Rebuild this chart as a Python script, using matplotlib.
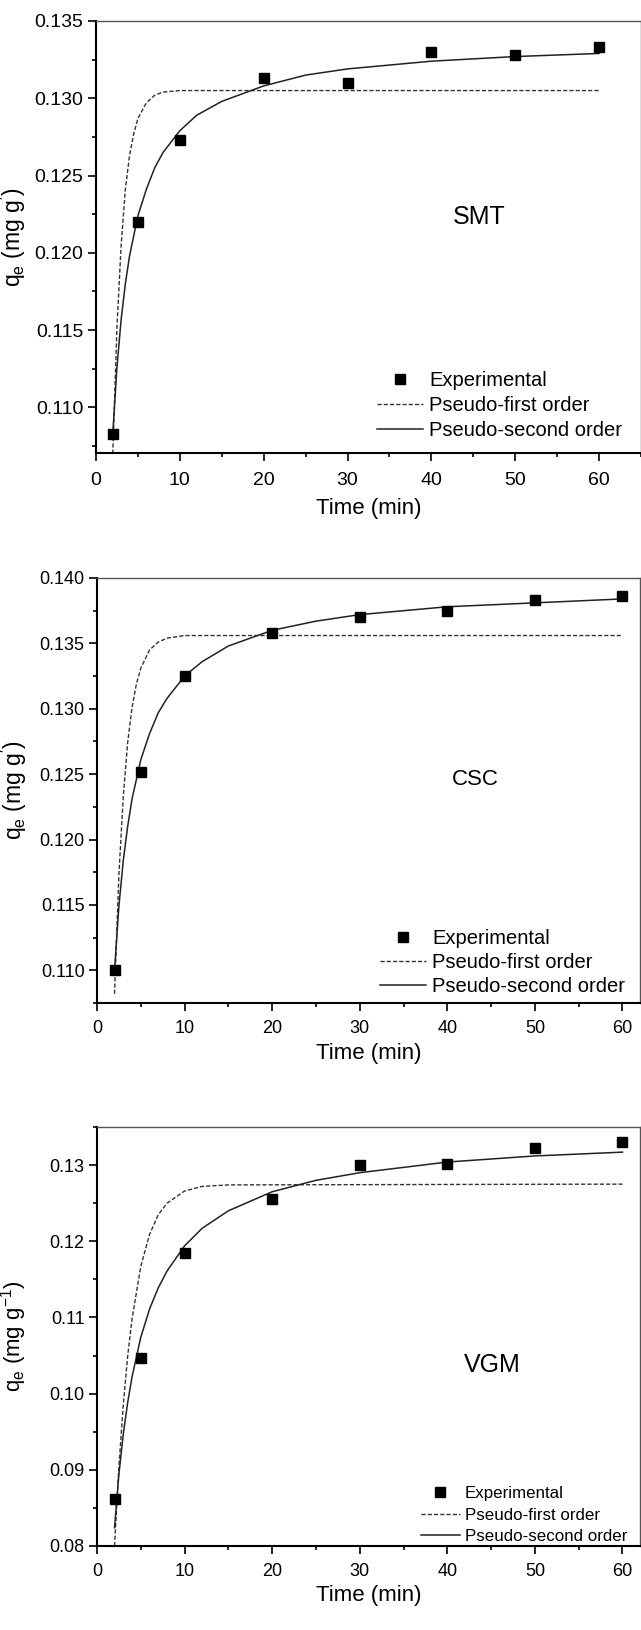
import matplotlib
matplotlib.use('Agg')
import matplotlib.pyplot as plt
from matplotlib.ticker import MultipleLocator, FormatStrFormatter

plt.rcParams['font.family'] = ['Liberation Sans', 'DejaVu Sans']
plt.rcParams['mathtext.fontset'] = 'custom'
plt.rcParams['mathtext.rm'] = 'Liberation Sans'
plt.rcParams['mathtext.it'] = 'Liberation Sans:italic'

# experimental time points (min)
t_exp = [2, 5, 10, 20, 30, 40, 50, 60]

# SMT
smt_exp = [0.1083, 0.1220, 0.1273, 0.1313, 0.1310, 0.1330, 0.1328, 0.1333]
smt_pfo_t = [2, 2.5, 3, 3.5, 4, 4.5, 5, 6, 7, 8, 10, 60]
smt_pfo = [0.1070, 0.1152, 0.1205, 0.1241, 0.1263, 0.1277, 0.1287, 0.1297, 0.1302, 0.1304, 0.1305, 0.1305]
smt_pso_t = [2, 2.5, 3, 3.5, 4, 5, 6, 7, 8, 10, 12, 15, 20, 25, 30, 40, 50, 60]
smt_pso = [0.1083, 0.1126, 0.1157, 0.1180, 0.1198, 0.1224, 0.1241, 0.1255, 0.1265, 0.1279,
           0.1289, 0.1298, 0.1308, 0.1315, 0.1319, 0.1324, 0.1327, 0.1329]

# CSC
csc_exp = [0.1100, 0.1252, 0.1325, 0.1358, 0.1370, 0.1375, 0.1383, 0.1386]
csc_pfo_t = [2, 2.5, 3, 3.5, 4, 4.5, 5, 6, 7, 8, 10, 60]
csc_pfo = [0.1082, 0.1173, 0.1233, 0.1274, 0.1301, 0.1319, 0.1331, 0.1345, 0.1351, 0.1354, 0.1356, 0.1356]
csc_pso_t = [2, 2.5, 3, 3.5, 4, 5, 6, 7, 8, 10, 12, 15, 20, 25, 30, 40, 50, 60]
csc_pso = [0.1100, 0.1149, 0.1184, 0.1210, 0.1231, 0.1261, 0.1281, 0.1297, 0.1308, 0.1325,
           0.1336, 0.1348, 0.1360, 0.1367, 0.1372, 0.1378, 0.1381, 0.1384]

# VGM
vgm_exp = [0.0862, 0.1047, 0.1184, 0.1255, 0.1300, 0.1302, 0.1323, 0.1330]
vgm_pfo_t = [2, 2.5, 3, 3.5, 4, 5, 6, 7, 8, 10, 12, 15, 60]
vgm_pfo = [0.0800, 0.0904, 0.0985, 0.1049, 0.1098, 0.1167, 0.1209, 0.1235, 0.1250, 0.1266, 0.1272, 0.1274, 0.1275]
vgm_pso_t = [2, 2.5, 3, 3.5, 4, 5, 6, 7, 8, 10, 12, 15, 20, 25, 30, 40, 50, 60]
vgm_pso = [0.0824, 0.0894, 0.0947, 0.0988, 0.1022, 0.1074, 0.1111, 0.1139, 0.1161, 0.1194,
           0.1217, 0.1240, 0.1265, 0.1280, 0.1290, 0.1304, 0.1312, 0.1317]

W, H = 641, 1630
fig = plt.figure(figsize=(W / 100, H / 100), dpi=100)


def px_axes(left, top, right, bottom):
    return fig.add_axes([left / W, 1 - bottom / H, (right - left) / W, (bottom - top) / H])


panels = [
    dict(box=(96, 21, 641, 453), xlim=(0, 65), ylim=(0.10705, 0.135), ymaj=0.005, ymin=0.0025, fmt='%.3f',
         exp=smt_exp, pfo_t=smt_pfo_t, pfo=smt_pfo, pso_t=smt_pso_t, pso=smt_pso,
         name='SMT', name_xy=(45.7, 0.1223), name_fs=18, sup=r'$^{\prime}$', ylab_fs=16.5,
         leg_xy=(0.515, 0.030), leg_fs=14.5, leg_sp=0.3, tick_fs=14, xpad=8, xlab_y=-0.105),
    dict(box=(97, 578, 640, 1003), xlim=(0, 62), ylim=(0.1075, 0.140), ymaj=0.005, ymin=0.0025, fmt='%.3f',
         exp=csc_exp, pfo_t=csc_pfo_t, pfo=csc_pfo, pso_t=csc_pso_t, pso=csc_pso,
         name='CSC', name_xy=(43.2, 0.1246), name_fs=16, sup=r'$^{\prime}$', ylab_fs=16.5,
         leg_xy=(0.521, 0.016), leg_fs=14.5, leg_sp=0.25, tick_fs=13, xpad=6, xlab_y=-0.095),
    dict(box=(97, 1127, 640, 1546), xlim=(0, 62), ylim=(0.08, 0.135), ymaj=0.01, ymin=0.005, fmt='%.2f',
         exp=vgm_exp, pfo_t=vgm_pfo_t, pfo=vgm_pfo, pso_t=vgm_pso_t, pso=vgm_pso,
         name='VGM', name_xy=(45.1, 0.1037), name_fs=18, sup=r'$^{\mathregular{-1}}$', ylab_fs=16,
         leg_xy=(0.596, 0.004), leg_fs=12.2, leg_sp=0.4, tick_fs=13, xpad=6, xlab_y=-0.094),
]

for p in panels:
    ax = px_axes(*p['box'])
    ax.plot(t_exp, p['exp'], 's', color='black', ms=7, label='Experimental', zorder=3)
    ax.plot(p['pfo_t'], p['pfo'], color='#333333', lw=1.0, ls=(0, (3, 1.5)), label='Pseudo-first order')
    ax.plot(p['pso_t'], p['pso'], color='#222222', lw=1.1, label='Pseudo-second order')

    ax.set_xlim(*p['xlim'])
    ax.set_ylim(*p['ylim'])
    ax.xaxis.set_major_locator(MultipleLocator(10))
    ax.xaxis.set_minor_locator(MultipleLocator(5))
    ax.yaxis.set_major_locator(MultipleLocator(p['ymaj']))
    ax.yaxis.set_minor_locator(MultipleLocator(p['ymin']))
    ax.yaxis.set_major_formatter(FormatStrFormatter(p['fmt']))
    ax.tick_params(which='both', direction='out', top=False, right=False,
                   labelsize=p['tick_fs'], width=1.2, color='black')
    ax.tick_params(which='major', length=6)
    ax.tick_params(which='minor', length=3)
    ax.tick_params(axis='x', which='major', pad=p['xpad'])
    ax.tick_params(axis='y', which='major', pad=3)

    for side in ['left', 'bottom']:
        ax.spines[side].set_linewidth(1.5)
        ax.spines[side].set_color('black')
    for side in ['top', 'right']:
        ax.spines[side].set_linewidth(1.0)
        ax.spines[side].set_color('#555555')

    ax.set_xlabel('Time (min)', fontsize=16)
    ax.xaxis.set_label_coords(0.5, p['xlab_y'])
    ax.set_ylabel(r'q$_{\mathregular{e}}$ (mg g' + p['sup'] + ')', fontsize=p['ylab_fs'])
    ax.yaxis.set_label_coords(-0.125, 0.5)

    ax.text(p['name_xy'][0], p['name_xy'][1], p['name'], ha='center', va='center', fontsize=p['name_fs'])

    ax.legend(loc='lower left', bbox_to_anchor=p['leg_xy'], frameon=False, fontsize=p['leg_fs'],
              handlelength=2.3, handletextpad=0.3, labelspacing=p['leg_sp'],
              borderpad=0, borderaxespad=0, numpoints=1)

fig.savefig('out.png', dpi=100)
